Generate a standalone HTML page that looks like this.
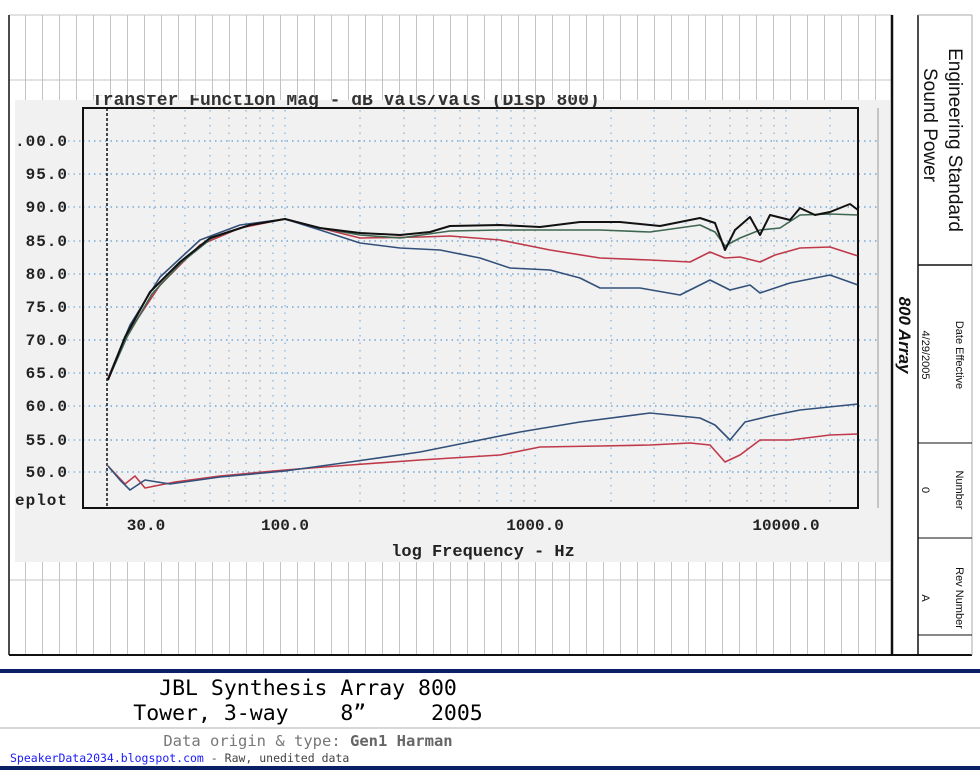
<!DOCTYPE html>
<html><head><meta charset="utf-8"><style>
body{margin:0;background:#fff;width:980px;height:770px;overflow:hidden;font-family:"Liberation Sans",sans-serif}
</style></head><body>
<svg width="980" height="770" viewBox="0 0 980 770" xmlns="http://www.w3.org/2000/svg" style="position:absolute;left:0;top:0">
<defs><pattern id="vg" width="17" height="10" patternUnits="userSpaceOnUse"><line x1="8.5" y1="0" x2="8.5" y2="10" stroke="#c4c4c4" stroke-width="1"/></pattern>
<clipPath id="tc"><rect x="15" y="95" width="875" height="15"/></clipPath></defs>
<rect x="9" y="15" width="882" height="640" fill="url(#vg)"/>
<line x1="9" y1="15" x2="892" y2="15" stroke="#c4c4c4"/>
<line x1="9" y1="80" x2="892" y2="80" stroke="#c4c4c4"/>
<line x1="9" y1="580" x2="892" y2="580" stroke="#c4c4c4"/>
<rect x="15" y="100" width="875" height="462" fill="#f1f1f1"/>
<text clip-path="url(#tc)" x="92" y="105" font-family="Liberation Mono,monospace" font-weight="bold" font-size="18" fill="#333">Transfer Function Mag - dB Vals/Vals (Disp 800)</text>
<g stroke="#5b9bd5" stroke-width="1.2" stroke-dasharray="1.5,4">
<line x1="83" y1="141" x2="878" y2="141"/><line x1="83" y1="174" x2="878" y2="174"/><line x1="83" y1="207" x2="878" y2="207"/><line x1="83" y1="241" x2="878" y2="241"/><line x1="83" y1="274" x2="878" y2="274"/><line x1="83" y1="307" x2="878" y2="307"/><line x1="83" y1="340" x2="878" y2="340"/><line x1="83" y1="373" x2="878" y2="373"/><line x1="83" y1="406" x2="878" y2="406"/><line x1="83" y1="440" x2="878" y2="440"/><line x1="83" y1="472" x2="878" y2="472"/>
</g>
<g stroke="#5b9bd5" stroke-width="1" stroke-dasharray="1.5,4">
<line x1="68" y1="141" x2="83" y2="141"/><line x1="68" y1="174" x2="83" y2="174"/><line x1="68" y1="207" x2="83" y2="207"/><line x1="68" y1="241" x2="83" y2="241"/><line x1="68" y1="274" x2="83" y2="274"/><line x1="68" y1="307" x2="83" y2="307"/><line x1="68" y1="340" x2="83" y2="340"/><line x1="68" y1="373" x2="83" y2="373"/><line x1="68" y1="406" x2="83" y2="406"/><line x1="68" y1="440" x2="83" y2="440"/><line x1="68" y1="472" x2="83" y2="472"/>
</g>
<g stroke="#7fb0dc" stroke-width="1.2" stroke-dasharray="1.5,6">
<line x1="154" y1="110" x2="154" y2="506"/><line x1="185" y1="110" x2="185" y2="506"/><line x1="210" y1="110" x2="210" y2="506"/><line x1="229" y1="110" x2="229" y2="506"/><line x1="246" y1="110" x2="246" y2="506"/><line x1="260" y1="110" x2="260" y2="506"/><line x1="273" y1="110" x2="273" y2="506"/><line x1="285" y1="110" x2="285" y2="506"/>
<line x1="360" y1="110" x2="360" y2="506"/><line x1="404" y1="110" x2="404" y2="506"/><line x1="435" y1="110" x2="435" y2="506"/><line x1="460" y1="110" x2="460" y2="506"/><line x1="479" y1="110" x2="479" y2="506"/><line x1="497" y1="110" x2="497" y2="506"/><line x1="511" y1="110" x2="511" y2="506"/><line x1="524" y1="110" x2="524" y2="506"/><line x1="535" y1="110" x2="535" y2="506"/>
<line x1="611" y1="110" x2="611" y2="506"/><line x1="654" y1="110" x2="654" y2="506"/><line x1="686" y1="110" x2="686" y2="506"/><line x1="710" y1="110" x2="710" y2="506"/><line x1="730" y1="110" x2="730" y2="506"/><line x1="747" y1="110" x2="747" y2="506"/><line x1="761" y1="110" x2="761" y2="506"/><line x1="774" y1="110" x2="774" y2="506"/><line x1="786" y1="110" x2="786" y2="506"/><line x1="830" y1="110" x2="830" y2="506"/>
</g>
<rect x="83" y="108" width="775" height="400" fill="none" stroke="#111" stroke-width="2"/>
<line x1="107" y1="108" x2="107" y2="508" stroke="#111" stroke-width="1.5" stroke-dasharray="3,2"/>
<line x1="878" y1="108" x2="878" y2="508" stroke="#999" stroke-width="1"/>
<g font-family="Liberation Mono,monospace" font-weight="bold" font-size="16" fill="#222" text-anchor="end" letter-spacing="1">
<text x="68" y="146">.00.0</text><text x="68" y="179">95.0</text><text x="68" y="212">90.0</text><text x="68" y="246">85.0</text><text x="68" y="279">80.0</text><text x="68" y="312">75.0</text><text x="68" y="345">70.0</text><text x="68" y="378">65.0</text><text x="68" y="411">60.0</text><text x="68" y="445">55.0</text><text x="68" y="477">50.0</text><text x="68" y="505">eplot</text>
</g>
<g font-family="Liberation Mono,monospace" font-weight="bold" font-size="16" fill="#222" text-anchor="middle">
<text x="146" y="530">30.0</text><text x="285" y="530">100.0</text><text x="535" y="530">1000.0</text><text x="786" y="530">10000.0</text>
<text x="483" y="556" font-size="17">log Frequency - Hz</text>
</g>
<g fill="none" stroke-width="1.6" stroke-linejoin="round">
<polyline stroke="#33507a" points="108,378 130,325 160,277 200,240 240,225 285,219 320,230 360,243 400,248 440,250 480,258 510,268 550,270 580,278 600,288 640,288 680,295 700,285 710,280 730,290 750,285 760,293 790,283 830,275 858,285"/>
<polyline stroke="#c0394a" points="108,378 130,330 160,285 200,245 240,228 285,219 320,228 360,238 420,237 450,236 500,240 550,250 600,258 650,260 690,262 710,252 725,258 740,257 760,262 775,255 800,248 830,247 858,256"/>
<polyline stroke="#3e6650" points="108,380 127,337 152,294 182,262 212,238 250,225 285,219 320,228 360,235 400,238 450,231 500,230 600,230 650,232 700,225 715,232 725,246 740,238 760,230 780,228 800,215 830,214 858,215"/>
<polyline stroke="#111" stroke-width="2" points="108,380 125,337 150,292 180,262 210,238 250,225 285,219 320,228 360,233 400,235 430,232 450,226 500,225 540,227 580,222 620,222 660,226 700,218 715,223 725,250 735,230 750,217 760,235 770,215 790,220 800,208 815,215 830,212 850,204 858,210"/>
<polyline stroke="#c0394a" points="108,466 125,484 135,476 145,488 175,482 220,476 285,470 350,465 420,460 500,455 540,447 600,446 650,445 690,443 710,445 725,462 740,455 760,440 790,440 830,435 858,434"/>
<polyline stroke="#33507a" points="108,466 120,480 130,490 145,480 170,484 220,477 285,471 350,462 420,452 470,442 520,432 580,422 650,413 700,418 715,425 730,440 745,422 770,416 800,410 858,404"/>
</g>
<line x1="858" y1="108" x2="858" y2="508" stroke="#111" stroke-width="1.5"/>
<line x1="9" y1="15" x2="9" y2="655" stroke="#111" stroke-width="1.5"/>
<line x1="9" y1="655" x2="972" y2="655" stroke="#111" stroke-width="2"/>
<line x1="892" y1="15" x2="892" y2="655" stroke="#111" stroke-width="2.5"/>
<line x1="918" y1="15" x2="918" y2="655" stroke="#111" stroke-width="1.5"/>
<line x1="972" y1="15" x2="972" y2="655" stroke="#aaa" stroke-width="1"/>
<line x1="918" y1="265" x2="972" y2="265" stroke="#111" stroke-width="1.5"/>
<line x1="918" y1="443" x2="972" y2="443" stroke="#111" stroke-width="1"/>
<line x1="918" y1="538" x2="972" y2="538" stroke="#111" stroke-width="1"/>
<line x1="918" y1="635" x2="972" y2="635" stroke="#111" stroke-width="1"/>
<line x1="918" y1="15" x2="972" y2="15" stroke="#aaa" stroke-width="1"/>
<g font-family="Liberation Sans,sans-serif" fill="#111">
<text transform="translate(949,140) rotate(90)" text-anchor="middle" font-size="19">Engineering Standard</text>
<text transform="translate(924,125) rotate(90)" text-anchor="middle" font-size="19">Sound Power</text>
<text transform="translate(899,335) rotate(90)" text-anchor="middle" font-size="17" font-weight="bold" font-style="italic">800 Array</text>
<text transform="translate(956,355) rotate(90)" text-anchor="middle" font-size="11">Date Effective</text>
<text transform="translate(922,355) rotate(90)" text-anchor="middle" font-size="11">4/29/2005</text>
<text transform="translate(956,490) rotate(90)" text-anchor="middle" font-size="11">Number</text>
<text transform="translate(922,490) rotate(90)" text-anchor="middle" font-size="11">0</text>
<text transform="translate(956,598) rotate(90)" text-anchor="middle" font-size="11">Rev Number</text>
<text transform="translate(922,598) rotate(90)" text-anchor="middle" font-size="11">A</text>
</g>
<rect x="0" y="669" width="980" height="4" fill="#0a1f66"/>
<rect x="0" y="766" width="980" height="4" fill="#0a1f66"/>
<rect x="0" y="727" width="980" height="2" fill="#d8d8d8"/>
<g font-family="DejaVu Sans Mono,Liberation Mono,monospace" text-anchor="middle">
<text x="308" y="695" font-size="21.5" fill="#000">JBL Synthesis Array 800</text>
<text x="308" y="720" font-size="21.5" fill="#000" xml:space="preserve">Tower, 3-way    8”     2005</text>
<text x="308" y="746" font-size="15.5" fill="#777">Data origin &amp; type: <tspan font-weight="bold" fill="#666">Gen1 Harman</tspan></text>
</g>
<text x="10" y="762" font-family="DejaVu Sans Mono,Liberation Mono,monospace" font-size="11.5" fill="#1a1aff">SpeakerData2034.blogspot.com <tspan fill="#444">- Raw, unedited data</tspan></text>
</svg>
</body></html>
